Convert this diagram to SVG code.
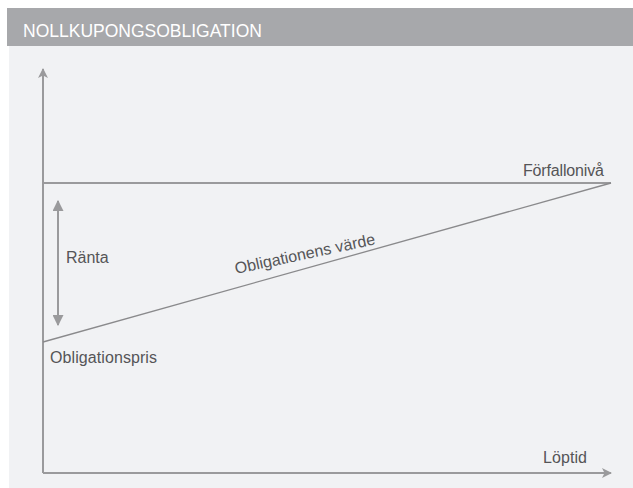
<svg xmlns="http://www.w3.org/2000/svg" width="633" height="488" viewBox="0 0 633 488">
  <style>
    .lbl { font-family: "Liberation Sans", Arial, sans-serif; font-size: 16px; fill: #555557; }
    .title { font-family: "Liberation Sans", Arial, sans-serif; font-size: 17.5px; fill: #ffffff; }
    .ln { stroke: #9a9a9c; stroke-width: 2; fill: none; }
    .thin { stroke: #8a8a8c; stroke-width: 1.3; fill: none; }
  </style>
  <defs>
    <marker id="ah" viewBox="0 0 10 10" refX="9" refY="5" markerWidth="5" markerHeight="5" orient="auto-start-reverse" markerUnits="strokeWidth">
      <path d="M0,0 L10,5 L0,10 L2.5,5 Z" fill="#9a9a9c"/>
    </marker>
    <marker id="ah2" viewBox="0 0 10 10" refX="9" refY="5" markerWidth="5.5" markerHeight="5.5" orient="auto-start-reverse" markerUnits="strokeWidth">
      <path d="M0,0 L10,5 L0,10 Z" fill="#9a9a9c"/>
    </marker>
  </defs>
  <!-- panel background and header bar -->
  <rect x="9" y="8" width="624" height="480" fill="#f1f2f4"/>
  <rect x="7" y="8" width="626" height="38" fill="#a7a8ab"/>
  <text class="title" x="23" y="37">NOLLKUPONGSOBLIGATION</text>

  <g id="connectors">
    <!-- axes -->
    <line id="y-axis" class="ln" x1="43" y1="473" x2="43" y2="69" marker-end="url(#ah)"/>
    <line id="x-axis" class="ln" x1="43" y1="473" x2="611" y2="473" marker-end="url(#ah)"/>
    <!-- maturity level -->
    <line id="level" class="ln" x1="43" y1="183" x2="611" y2="183"/>
    <!-- bond value -->
    <line id="value" class="thin" x1="43" y1="342" x2="611" y2="183"/>
    <!-- interest span -->
    <line id="interest" class="ln" x1="58" y1="201" x2="58" y2="325" marker-start="url(#ah2)" marker-end="url(#ah2)"/>
  </g>

  <g id="label-forfall"><text class="lbl" x="523" y="176" textLength="81">Förfallonivå</text></g>
  <g id="label-ranta"><text class="lbl" x="66" y="263">Ränta</text></g>
  <g id="label-pris"><text class="lbl" x="50" y="363" textLength="107">Obligationspris</text></g>
  <g id="label-varde"><text class="lbl" x="236" y="274" transform="rotate(-12 236 274)" textLength="143">Obligationens värde</text></g>
  <g id="label-loptid"><text class="lbl" x="543" y="463" textLength="44">Löptid</text></g>
</svg>
